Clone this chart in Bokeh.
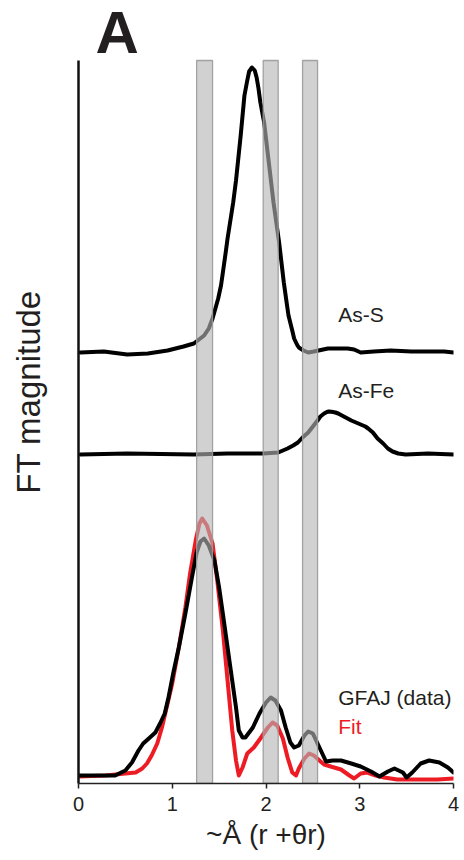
from bokeh.plotting import figure
from bokeh.models import Label, Range1d, FixedTicker, LinearAxis
from bokeh.embed import file_html
from bokeh.resources import INLINE
import numpy as np

# ---- data (FT magnitude, arbitrary units, stacked with offsets) ----
r_as_s = [0.02, 0.27, 0.52, 0.74, 0.95, 1.12, 1.23, 1.34, 1.39, 1.43, 1.46, 1.49, 1.52, 1.54,
          1.57, 1.59, 1.62, 1.65, 1.68, 1.70, 1.73, 1.75, 1.77, 1.80, 1.82, 1.85, 1.88, 1.90,
          1.92, 1.94, 1.98, 2.03, 2.08, 2.14, 2.19, 2.22, 2.24, 2.28, 2.30, 2.33, 2.35, 2.40,
          2.45, 2.51, 2.66, 2.87, 2.94, 3.01, 3.15, 3.33, 3.55, 3.73, 3.90, 4.00]
as_s_mag = [0.00, 0.01, -0.02, -0.01, 0.02, 0.06, 0.09, 0.17, 0.24, 0.34, 0.44, 0.54, 0.67, 0.80,
            1.00, 1.14, 1.32, 1.50, 1.72, 1.90, 2.17, 2.37, 2.57, 2.72, 2.81, 2.85, 2.82, 2.75,
            2.64, 2.50, 2.30, 1.90, 1.50, 1.10, 0.70, 0.50, 0.37, 0.22, 0.14, 0.08, 0.05, 0.02,
            0.00, 0.01, 0.04, 0.04, 0.03, 0.00, 0.01, 0.02, 0.01, 0.01, 0.01, 0.00]
as_s_offset = 4.31

r_as_fe = [0.02, 0.52, 1.23, 1.59, 1.97, 2.05, 2.13, 2.18, 2.23, 2.29, 2.34, 2.39, 2.45, 2.50,
           2.55, 2.58, 2.62, 2.65, 2.67, 2.70, 2.74, 2.77, 2.83, 2.91, 2.96, 3.01, 3.06, 3.09,
           3.14, 3.19, 3.25, 3.30, 3.35, 3.41, 3.49, 3.73, 4.00]
as_fe_mag = [0.00, 0.01, 0.00, 0.01, 0.01, 0.015, 0.02, 0.04, 0.06, 0.09, 0.12, 0.17, 0.22, 0.28,
             0.34, 0.38, 0.41, 0.425, 0.43, 0.427, 0.42, 0.41, 0.38, 0.34, 0.32, 0.30, 0.28, 0.26,
             0.22, 0.16, 0.11, 0.06, 0.03, 0.01, 0.00, 0.01, 0.00]
as_fe_offset = 3.29

r_data = [0.00, 0.39, 0.50, 0.57, 0.64, 0.69, 0.75, 0.82, 0.87, 0.92, 0.96, 1.01, 1.07, 1.14,
          1.21, 1.26, 1.30, 1.34, 1.39, 1.45, 1.50, 1.55, 1.62, 1.68, 1.71, 1.75, 1.78, 1.86,
          1.93, 2.00, 2.05, 2.10, 2.16, 2.21, 2.26, 2.30, 2.35, 2.41, 2.45, 2.50, 2.55, 2.60,
          2.64, 2.71, 2.80, 2.91, 3.01, 3.12, 3.21, 3.30, 3.37, 3.46, 3.50, 3.56, 3.65, 3.74,
          3.85, 3.94, 4.00]
gfaj_mag = [0.08, 0.08, 0.13, 0.21, 0.33, 0.40, 0.45, 0.51, 0.60, 0.70, 0.86, 1.10, 1.36, 1.70,
            2.06, 2.31, 2.42, 2.45, 2.38, 2.23, 1.96, 1.63, 1.16, 0.76, 0.53, 0.46, 0.46, 0.56,
            0.70, 0.81, 0.86, 0.83, 0.73, 0.56, 0.41, 0.36, 0.38, 0.48, 0.52, 0.50, 0.40, 0.30,
            0.22, 0.23, 0.23, 0.20, 0.17, 0.12, 0.07, 0.12, 0.15, 0.11, 0.06, 0.11, 0.20, 0.23,
            0.21, 0.16, 0.11]

r_fit = [0.00, 0.29, 0.50, 0.61, 0.68, 0.73, 0.78, 0.84, 0.89, 0.94, 1.00, 1.07, 1.14, 1.19,
         1.25, 1.29, 1.32, 1.37, 1.43, 1.48, 1.54, 1.59, 1.64, 1.68, 1.71, 1.75, 1.80, 1.87,
         1.94, 2.02, 2.07, 2.12, 2.18, 2.23, 2.28, 2.32, 2.35, 2.41, 2.46, 2.51, 2.57, 2.62,
         2.69, 2.80, 2.89, 2.94, 3.01, 3.08, 3.17, 3.26, 3.40, 3.62, 3.83, 4.00]
fit_mag = [0.07, 0.08, 0.10, 0.11, 0.15, 0.20, 0.28, 0.40, 0.56, 0.76, 1.00, 1.36, 1.76, 2.10,
           2.43, 2.60, 2.65, 2.58, 2.40, 2.03, 1.53, 1.03, 0.53, 0.23, 0.08, 0.16, 0.30, 0.36,
           0.45, 0.56, 0.61, 0.58, 0.45, 0.26, 0.11, 0.08, 0.15, 0.25, 0.30, 0.28, 0.23, 0.19,
           0.17, 0.14, 0.08, 0.05, 0.10, 0.11, 0.08, 0.06, 0.04, 0.04, 0.04, 0.05]

band_left = [1.26, 1.97, 2.39]
band_right = [1.43, 2.13, 2.55]

x_ticks = [0, 1, 2, 3, 4]
curve_labels = ["As-S", "As-Fe", "GFAJ (data)", "Fit"]

Y_TOP = 7.23      # top of axis / shaded bands
Y_END = 7.83      # top of the drawing area (room for the panel letter)
FONT = "Liberation Sans"
TXT = "#231f20"
RED = "#ed1c24"

p = figure(width=464, height=860, x_range=Range1d(0, 4), y_range=Range1d(0, Y_END),
           output_backend="svg", toolbar_location=None,
           min_border_left=78, min_border_right=11, min_border_top=0, min_border_bottom=77)
p.title.visible = False
p.grid.visible = False
p.outline_line_color = None
p.background_fill_color = "white"
p.border_fill_color = "white"

LW = 4
# curves
p.line(r_as_s, np.array(as_s_mag) + as_s_offset, line_color="black", line_width=LW,
       line_join="round", line_cap="round")
p.line(r_as_fe, np.array(as_fe_mag) + as_fe_offset, line_color="black", line_width=LW,
       line_join="round", line_cap="round")
p.line(r_fit, fit_mag, line_color=RED, line_width=LW, line_join="round", line_cap="round")
p.line(r_data, gfaj_mag, line_color="black", line_width=LW, line_join="round", line_cap="round")

# shaded bands (over curves)
p.quad(left=band_left, right=band_right, bottom=0, top=Y_TOP,
       fill_color="#b4b4b4", fill_alpha=0.62, line_color="#9a9a9a", line_width=1.3, line_alpha=0.9)

# main x axis: line, ticks, tick labels
xa = p.xaxis[0]
xa.ticker = FixedTicker(ticks=x_ticks)
xa.major_tick_in = 0
xa.major_tick_out = 5
xa.minor_tick_line_color = None
xa.axis_line_width = 1.5
xa.axis_line_color = "#222222"
xa.major_tick_line_color = "#222222"
xa.major_tick_line_width = 1.5
xa.major_label_text_font = FONT
xa.major_label_text_font_size = "20px"
xa.major_label_text_color = TXT
xa.major_label_standoff = 8

# main y axis: bare line only
ya = p.yaxis[0]
ya.ticker = FixedTicker(ticks=[])
ya.bounds = (0, Y_TOP)
ya.major_tick_line_color = None
ya.minor_tick_line_color = None
ya.axis_line_width = 2.5
ya.axis_line_color = "#111111"

# axis titles (carried by line-less axes so they can be positioned like the original)
p.extra_x_ranges = {"xlab": Range1d(0, 4)}
p.extra_y_ranges = {"ylab": Range1d(0, Y_END)}
xlab = LinearAxis(x_range_name="xlab", ticker=FixedTicker(ticks=[]), bounds=(0.16, 4.0),
                  axis_line_color=None, major_tick_line_color=None, minor_tick_line_color=None,
                  axis_label="~Å (r +θr)", axis_label_text_font=FONT,
                  axis_label_text_font_size="28px", axis_label_text_font_style="normal",
                  axis_label_text_color=TXT, axis_label_standoff=5)
p.add_layout(xlab, "below")
ylab = LinearAxis(y_range_name="ylab", ticker=FixedTicker(ticks=[]), bounds=(2.95, 5.01),
                  axis_line_color=None, major_tick_line_color=None, minor_tick_line_color=None,
                  axis_label="FT magnitude", axis_label_text_font=FONT,
                  axis_label_text_font_size="33px", axis_label_text_font_style="normal",
                  axis_label_text_color=TXT, axis_label_standoff=32)
p.add_layout(ylab, "left")

# text labels
pos = [(2.77, 4.695, TXT), (2.77, 3.93, TXT), (2.77, 0.86, TXT), (2.77, 0.575, RED)]
for t, (x, y, c) in zip(curve_labels, pos):
    p.add_layout(Label(x=x, y=y, text=t, text_font=FONT, text_font_size="21px",
                       text_color=c, text_baseline="middle", text_align="left"))

p.add_layout(Label(x=0.18, y=7.515, text="A", text_font=FONT, text_font_size="60px",
                   text_font_style="bold", text_color=TXT,
                   text_baseline="middle", text_align="left"))

open("out.html", "w").write(file_html(p, INLINE))
